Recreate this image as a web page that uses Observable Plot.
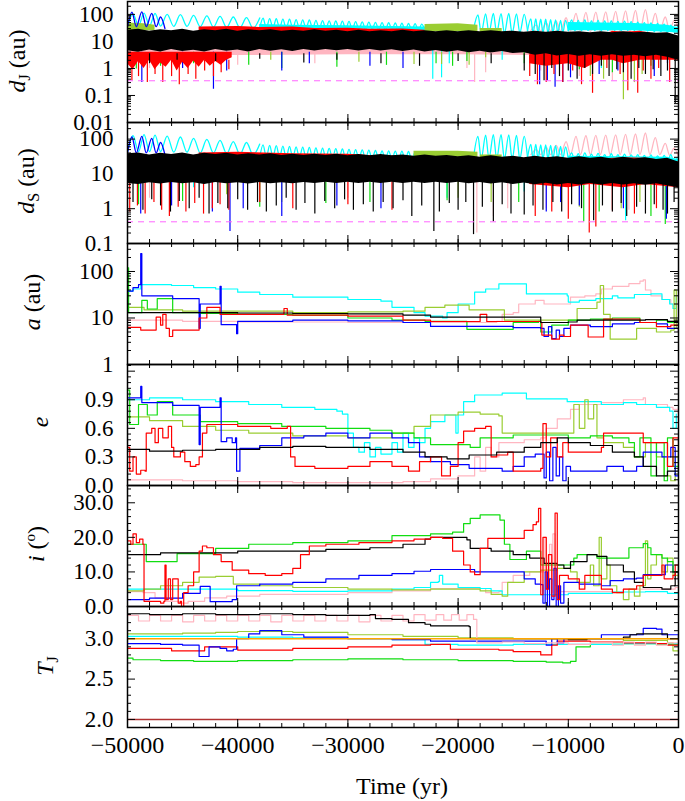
<!DOCTYPE html>
<html><head><meta charset="utf-8">
<script src="https://cdn.jsdelivr.net/npm/d3@7"></script>
<script src="https://cdn.jsdelivr.net/npm/@observablehq/plot@0.6"></script>
<style>
body{margin:0;background:#fff;}
#wrap{position:relative;width:685px;height:801px;overflow:hidden;background:#fff;font-family:"Liberation Serif","Times New Roman",serif;color:#000;}
.ylab{position:absolute;transform:translate(-50%,-50%) rotate(-90deg);white-space:nowrap;font-size:24px;line-height:1;}
.ylab sub{font-size:16px;vertical-align:-5px;line-height:0;}
.ylab sup{font-size:15px;vertical-align:9px;line-height:0;}
#xlab{position:absolute;left:402px;top:786px;transform:translate(-50%,-50%);font-size:24px;white-space:nowrap;}
svg{overflow:visible;}
</style></head><body><div id="wrap">
<div class="ylab" style="left:17px;top:61px"><i>d</i><sub>J</sub> (au)</div>
<div class="ylab" style="left:26px;top:181px"><i>d</i><sub>S</sub> (au)</div>
<div class="ylab" style="left:32px;top:302px"><i>a</i> (au)</div>
<div class="ylab" style="left:40px;top:422px"><i>e</i></div>
<div class="ylab" style="left:36px;top:544px"><i>i</i> (<sup>o</sup>)</div>
<div class="ylab" style="left:45px;top:666px"><i>T</i><sub>J</sub></div>
<div id="xlab">Time (yr)</div>
</div>
<script>
// ---------- colours ----------
const C = {black:"#000000", red:"#ff0000", blue:"#0000ff", green:"#11dd11", yg:"#9acd32", cyan:"#00ffff", pink:"#ffb6c1", dash:"#ff66ff", orange:"#ffa500", dred:"#b03030"};

// ---------- axis ticks / labels ----------
const xMajor = [-50000,-40000,-30000,-20000,-10000,0];
const xLabels = ["\u221250000","\u221240000","\u221230000","\u221220000","\u221210000","0"];
const dJTicks = [0.01,0.1,1,10,100];      const dJLabels = ["0.01","0.1","1","10","100"];
const dSTicks = [0.1,1,10,100];           const dSLabels = ["0.1","1","10","100"];
const aTicks = [1,10,100];                const aLabels = ["1","10","100"];
const eTicks = [0,0.3,0.6,0.9,1.2];       const eLabels = ["0.0","0.3","0.6","0.9",""];
const iTicks = [0,10,20,30];              const iLabels = ["0.0","10.0","20.0","30.0"];
const tjTicks = [2.0,2.5,3.0];            const tjLabels = ["2.0","2.5","3.0"];

// ---------- d_J panel (time in kyr; [t, lo, hi] bands, [t, value] lines, [t, min] spikes) ----------
const blackBandJ = [[-50,4.5,26],[-49,4,28],[-48,4.8,24],[-47,4.1,27],[-46,5,25],[-45,4.2,28],[-44,4.7,24],[-43,4.1,27],[-42,5,25],[-41,4.3,28],[-40,4.8,24],[-39,4.1,27],[-38,5,25],[-37,4.3,27],[-36,4.9,24],[-35,4.2,26],[-34,5,24],[-33,4.4,27],[-32,5,24],[-31,4.5,26],[-30,5,23],[-29,4.4,26],[-28,5,23],[-27,4.4,25],[-26,4.9,23],[-25,4.2,26],[-24,4.8,23],[-23,4.1,25],[-22,4.6,23],[-21,4,25],[-20,4.5,23],[-19,3.8,25],[-18,4.3,23],[-17,3.7,25],[-16,4.2,23],[-15,3.6,24],[-14,3.8,22],[-13,3.1,24],[-12,3.5,22],[-11,2.9,24],[-10,3.3,22],[-9,2.8,23],[-8,3.2,21],[-7,2.8,23],[-6,3.2,21],[-5,2.8,23],[-4,3.1,21],[-3,2.7,22],[-2,3.1,20],[-1,2.6,21],[0,2,16]];
const redBandJ1 = [[-50,1.5,4],[-49.5,0.9,4],[-49,1.8,4],[-48.5,1,4],[-48,2,4],[-47.5,0.9,4],[-47,1.6,4],[-46.5,1.1,4],[-46,2,4],[-45.5,0.8,4],[-45,1.7,4],[-44.5,1,4],[-44,1.9,4],[-43.5,1.1,4],[-43,2,4],[-42.5,1.2,4],[-42,1.8,4],[-41.5,1.3,4],[-41,2,4],[-40.5,2.5,4]];
const redBandJ2 = [[-43.5,15,34],[-40,15,36],[-38,15,33],[-35,15,34],[-33,15,30],[-30,15,31],[-28,15,28],[-25,15,29],[-23,15,26]];
const redBandJ3 = [[-13.5,1.5,10],[-12,1.2,9],[-10,1.5,10],[-8.5,1,8],[-7,2,12],[-6,2,24],[-5,1.5,22],[-3.5,2,24],[-2,2,18],[0,2,15]];
const pinkBandJ = [[-50,3,12],[-40,3,12],[-30,3.2,12],[-20,3.2,12],[-13.5,3,12]];
const cyanBandJ1 = [[-38,30,42],[-35,30,40],[-30,28,38],[-26,28,36],[-23,25,34],[-18.6,22,34]];
const cyanBandJ2 = [[-10,25,50],[-7,25,48],[-4,25,46],[-1,22,40],[0,20,32]];
const ygBandJ0 = [[-50,25,48],[-48.5,25,45],[-47.5,25,40]];
const ygBandJ1 = [[-23,23,42],[-20,23,45],[-18.2,23,40]];
const ygBandJ2 = [[-18,20,30],[-16,20,30]];
const cyanArchJ1 = [[-50,38],[-49.5,105],[-49,38],[-48.5,112],[-48,38],[-47.5,108],[-47,37],[-46.4,100],[-45.8,36],[-45.2,98],[-44.6,36],[-44,92],[-43.4,35],[-42.8,88],[-42.2,34],[-41.6,84],[-41,33],[-40.4,80],[-39.8,32],[-39.2,76],[-38.6,31],[-38,74]];
const cyanArchJ1b = [[-38,31],[-37.7,72],[-37.4,31],[-37.1,70],[-36.8,31],[-36.5,69],[-36.2,31],[-35.9,67],[-35.6,30],[-35.3,66],[-35,30],[-34.7,64],[-34.4,30],[-34.1,63],[-33.8,30],[-33.5,62],[-33.2,30],[-32.9,60],[-32.6,29],[-32.3,59],[-32,29],[-31.7,58],[-31.4,29],[-31.1,57],[-30.8,29],[-30.5,56],[-30.2,28],[-29.9,55],[-29.6,28],[-29.3,54],[-29,28],[-28.7,53],[-28.4,28],[-28.1,52],[-27.8,28],[-27.5,51],[-27.2,27],[-26.9,50],[-26.6,27],[-26.3,49],[-26,27],[-25.7,48],[-25.4,26],[-25.1,47],[-24.8,26],[-24.5,46],[-24.2,26],[-23.9,45],[-23.6,25],[-23.3,44],[-23,25]];
const blueArchJ = [[-50,35],[-49.6,120],[-49.2,35],[-48.7,125],[-48.3,35],[-47.8,110],[-47.4,35],[-47,80],[-46.6,30]];
const cyanArchJ2 = [[-18.6,28],[-18.2,95],[-17.9,21],[-17.5,105],[-17.2,21],[-16.8,108],[-16.5,21],[-16.1,107],[-15.8,20],[-15.4,108],[-15.1,20],[-14.7,105],[-14.4,21],[-14.0,100],[-13.7,25]];
const cyanArchJ3 = [[-13.7,25],[-13.4,68],[-13.2,21],[-12.95,68],[-12.75,21],[-12.5,66],[-12.3,21],[-12.05,66],[-11.85,21],[-11.6,64],[-11.4,21],[-11.15,62],[-10.95,21],[-10.7,60],[-10.5,21],[-10.25,60],[-10,25]];
const cyanArchJ4 = [[-10,25],[-9.7,62],[-9.4,25],[-9.1,60],[-8.8,25],[-8.5,62],[-8.2,25],[-7.9,58],[-7.6,25],[-7.3,60],[-7,25],[-6.7,57],[-6.4,25],[-6.1,58],[-5.8,25],[-5.5,55],[-5.2,25],[-4.9,56],[-4.6,25],[-4.3,54],[-4,25],[-3.7,52],[-3.4,24],[-3.1,50],[-2.8,24],[-2.5,48],[-2.2,23],[-1.9,46],[-1.6,23],[-1.3,44],[-1,22],[-0.7,40],[-0.4,22],[-0.1,35]];
const pinkArchJ = [[-13.4,25],[-12.9,40],[-12.5,24],[-12,48],[-11.6,24],[-11.1,55],[-10.7,24],[-10.2,75],[-9.8,24],[-9.3,110],[-8.9,23],[-8.4,118],[-8,23],[-7.5,122],[-7.1,23],[-6.6,125],[-6.2,23],[-5.7,130],[-5.3,23],[-4.8,135],[-4.4,23],[-3.9,140],[-3.5,23],[-3.0,150],[-2.6,25],[-2.1,110],[-1.7,25],[-1.2,80],[-0.8,25],[-0.4,60],[0,30]];
const blackSpikesJ = [[-48,1.5],[-45.5,2],[-42,1.8],[-38,2.2],[-34,1.6],[-31,2],[-27,1.5],[-23.5,1.2],[-20,1.8],[-17,1.5],[-14,0.8],[-13,0.6],[-12.2,0.35],[-11.5,1],[-10.8,0.5],[-10,0.8],[-9.2,0.4],[-8.5,1],[-7.8,0.6],[-7,1.2],[-6.3,0.5],[-5.6,0.9],[-5,0.7],[-4.3,0.4],[-3.6,1],[-3,0.6],[-2.3,0.9],[-1.6,0.5],[-1,0.8],[-0.3,0.05]];
const redSpikesJ1 = [[-49.6,0.35],[-49,0.5],[-48.2,0.3],[-47.5,0.6],[-46.8,0.3],[-46,0.5],[-45.3,0.25],[-44.5,0.6],[-43.8,0.4],[-43,0.8],[-42.2,0.5],[-41.5,0.7],[-40.8,0.9]];
const redSpikesJ2 = [[-13.5,0.5],[-12.8,0.25],[-12,0.3],[-11.3,0.6],[-10.5,0.3],[-9.6,0.8],[-8.8,0.25],[-7.8,0.12],[-6.5,1],[-5.3,0.6],[-4.6,0.15],[-3.7,0.12],[-3.2,0.8],[-2.5,0.4],[-1.8,1],[-0.8,0.3]];
const blueSpikesJ = [[-48.7,0.3],[-45,1],[-42.2,0.17],[-41,0.8],[-36,0.8],[-33.5,1.5],[-28,1.2],[-25,1],[-12.6,0.25],[-11.9,0.35],[-11.2,0.2],[-10.5,0.3],[-9.8,0.45],[-7.2,0.6],[-5.5,0.8],[-2.2,0.5],[-1,1.5]];
const greenSpikesJ = [[-49.2,0.95],[-47,1.2],[-44,1.5],[-39,1.3],[-36,1],[-31,1.1],[-26.5,1.3],[-22,1.5],[-20.5,1.2],[-19.2,1.8],[-14,1.5],[-9,0.9],[-6,0.7],[-2.5,1.2]];
const ygSpikesJ = [[-47.5,1.5],[-37,2],[-29,1.7],[-24,1.4],[-21.5,1.4],[-19,1.3],[-17.5,2.5],[-8,0.5],[-6.8,0.4],[-5,0.07],[-4,0.3],[-3.3,0.6]];
const cyanSpikesJ = [[-22.3,0.4],[-21.5,0.45],[-20.8,1.5],[-16,2],[-7,1]];
const pinkSpikesJ = [[-48,1],[-40,1.3],[-33,1.5],[-19.2,1],[-18.5,0.3],[-17.5,0.7],[-12.5,0.8],[-9,0.5],[-6,0.35],[-4,0.6]];
const hillJ = [0.35];

// ---------- d_S panel ----------
const blackBandS = [[-50,5.3,38],[-49,5,40],[-48,5.6,35],[-47,5.1,39],[-46,5.7,36],[-45,5.2,40],[-44,5.6,35],[-43,5,39],[-42,5.7,36],[-41,5.2,39],[-40,5.6,35],[-39,5.1,38],[-38,5.7,35],[-37,5.2,38],[-36,5.6,34],[-35,5.2,37],[-34,5.7,34],[-33,5.3,37],[-32,5.8,34],[-31,5.3,37],[-30,5.8,33],[-29,5.3,36],[-28,5.8,33],[-27,5.3,36],[-26,5.8,33],[-25,5.3,35],[-24,5.8,32],[-23,5.3,35],[-22,5.8,32],[-21,5.3,34],[-20,5.8,31],[-19,5.2,33],[-18,5.7,30],[-17,5.1,33],[-16,5.6,30],[-15,5,32],[-14,5.5,29],[-13,4.9,32],[-12,5.4,29],[-11,4.8,31],[-10,5.3,28],[-9,4.8,31],[-8,5.3,28],[-7,4.8,30],[-6,5.3,27],[-5,4.8,30],[-4,5.2,27],[-3,4.7,29],[-2,5.2,26],[-1,4.6,28],[0,4,22]];
const redBandS2 = [[-43.5,20,40],[-40,20,42],[-35,20,38],[-30,18,37],[-28,18,34],[-23,18,31]];
const redBandS3 = [[-13.5,5,20],[-10,4,24],[-8,5,26],[-5,4,29],[-3,5,28],[0,4,22]];
const pinkBandS = [[-50,8,22],[-30,8,22],[-13.5,8,22]];
const cyanBandS1 = [[-38,23,35],[-35,23,34],[-30,22,32],[-26,22,31],[-23,20,30],[-18.6,20,32]];
const cyanBandS2 = [[-10,18,32],[-5,18,31],[-1,18,30],[0,16,26]];
const ygBandS1 = [[-24,25,45],[-20,25,45],[-18.2,25,42]];
const ygBandS2 = [[-18,20,35],[-16,20,35]];
const cyanArchS1 = [[-50,44],[-49.5,125],[-49,44],[-48.5,135],[-48,44],[-47.5,130],[-47,44],[-46.4,122],[-45.8,42],[-45.2,115],[-44.6,42],[-44,105],[-43.4,40],[-42.8,98],[-42.2,40],[-41.6,92],[-41,38],[-40.4,85],[-39.8,36],[-39.2,80],[-38.6,35],[-38,72]];
const cyanArchS1b = [[-38,30],[-37.7,68],[-37.4,30],[-37.1,66],[-36.8,30],[-36.5,65],[-36.2,30],[-35.9,63],[-35.6,29],[-35.3,62],[-35,29],[-34.7,60],[-34.4,29],[-34.1,59],[-33.8,29],[-33.5,58],[-33.2,29],[-32.9,56],[-32.6,28],[-32.3,55],[-32,28],[-31.7,54],[-31.4,28],[-31.1,53],[-30.8,28],[-30.5,52],[-30.2,27],[-29.9,51],[-29.6,27],[-29.3,50],[-29,27],[-28.7,49],[-28.4,27],[-28.1,48],[-27.8,27],[-27.5,47],[-27.2,26],[-26.9,46],[-26.6,26],[-26.3,46],[-26,26],[-25.7,45],[-25.4,25],[-25.1,45],[-24.8,25],[-24.5,44],[-24.2,25],[-23.9,43],[-23.6,24],[-23.3,42],[-23,24]];
const blueArchS = [[-50,40],[-49.6,115],[-49.2,40],[-48.7,120],[-48.3,40],[-47.8,105],[-47.4,40],[-47,80],[-46.6,35]];
const cyanArchS2 = [[-18.6,30],[-18.2,120],[-17.9,27],[-17.5,130],[-17.2,27],[-16.8,135],[-16.5,27],[-16.1,135],[-15.8,27],[-15.4,133],[-15.1,27],[-14.7,128],[-14.4,27],[-14.0,120],[-13.7,30]];
const cyanArchS3 = [[-13.7,30],[-13.4,70],[-13.2,27],[-12.95,70],[-12.75,27],[-12.5,68],[-12.3,27],[-12.05,68],[-11.85,27],[-11.6,66],[-11.4,27],[-11.15,65],[-10.95,27],[-10.7,62],[-10.5,27],[-10.25,60],[-10,27]];
const cyanArchS4 = [[-10,24],[-9.7,40],[-9.4,24],[-9.1,38],[-8.8,24],[-8.5,40],[-8.2,24],[-7.9,37],[-7.6,24],[-7.3,39],[-7,24],[-6.7,36],[-6.4,24],[-6.1,38],[-5.8,24],[-5.5,36],[-5.2,24],[-4.9,37],[-4.6,24],[-4.3,35],[-4,24],[-3.7,36],[-3.4,23],[-3.1,34],[-2.8,23],[-2.5,35],[-2.2,22],[-1.9,33],[-1.6,22],[-1.3,34],[-1,21],[-0.7,36],[-0.4,21],[-0.1,30]];
const pinkArchS = [[-13.4,36],[-12.9,50],[-12.5,36],[-12,58],[-11.6,36],[-11.1,66],[-10.7,36],[-10.2,85],[-9.8,36],[-9.3,120],[-8.9,36],[-8.4,125],[-8,36],[-7.5,128],[-7.1,36],[-6.6,130],[-6.2,36],[-5.7,133],[-5.3,36],[-4.8,136],[-4.4,36],[-3.9,140],[-3.5,36],[-3.0,150],[-2.6,36],[-2.1,110],[-1.7,36],[-1.2,75],[-0.8,34],[-0.4,55],[0,30]];
const blackSpikesS = [[-49.5,1.5],[-48.6,0.9],[-47.8,1.8],[-47,1.2],[-46.1,0.8],[-45.3,1.6],[-44.4,1],[-43.5,2],[-42.6,0.7],[-41.8,1.4],[-40.9,1],[-40,1.8],[-39.1,0.9],[-38.2,1.5],[-37.4,0.8],[-36.5,1.2],[-35.6,2],[-34.7,0.9],[-33.9,1.4],[-33,0.7],[-32.1,1.6],[-31.2,1],[-30.3,1.8],[-29.5,0.9],[-28.6,1.3],[-27.7,0.8],[-26.8,1.5],[-25.9,1],[-25,1.7],[-24.2,0.6],[-23.3,1.2],[-22.2,0.22],[-21.7,0.8],[-20.8,1.4],[-20,0.9],[-19.3,1.5],[-18.6,0.18],[-17.8,1.1],[-16.8,0.42],[-16,1.3],[-15.2,0.7],[-14,0.66],[-13.2,1.2],[-12.3,0.9],[-11.4,1.5],[-10.6,0.8],[-9.7,1.3],[-8.8,1],[-7.7,0.45],[-6.9,1.2],[-6,0.8],[-5.2,1.4],[-4.7,0.6],[-3.8,1.1],[-3,0.7],[-2.2,1.3],[-1.4,0.9],[-1,0.7],[-0.4,1.5]];
const redSpikesS = [[-49.8,0.8],[-49.1,1.2],[-48.4,0.7],[-47.6,1.5],[-46.9,0.9],[-46.2,0.6],[-45.4,1.1],[-44.7,0.8],[-43.9,1.4],[-43.1,0.7],[-42.3,1],[-41.6,1.3],[-40.8,0.9],[-38,1.5],[-35,1],[-30,1.3],[-26,0.9],[-13,0.6],[-11.5,0.8],[-10,0.5],[-8.1,0.2],[-7.5,0.3],[-6,0.9],[-4,0.7],[-2,1]];
const blueSpikesS = [[-48.8,0.7],[-46,1.2],[-42.3,0.8],[-40.7,0.22],[-39.5,1],[-36,0.6],[-31,1.2],[-27,1],[-12,0.8],[-10.7,1.5],[-9,1.2],[-5,1],[-1.1,0.5]];
const greenSpikesS = [[-49,1.3],[-45,1.6],[-38,1.1],[-32,1.4],[-28,1.5],[-21,1.7],[-14.5,1.5],[-8.6,0.42],[-7.2,0.8],[-2.5,0.6],[-1.2,0.35]];
const ygSpikesS = [[-47,2],[-41,2.5],[-36,1.5],[-20,2],[-17,1.5],[-9,1.1],[-5.2,1],[-3.5,1.5]];
const cyanSpikesS = [[-49,3],[-44,4],[-21,2],[-14,3],[-4.8,0.45]];
const pinkSpikesS = [[-48,2],[-38,1.5],[-30,2],[-18.3,0.2],[-16.8,0.6],[-15.5,1],[-12,1],[-6,0.8],[-4.5,0.9]];
const hillS = [0.42];

// ---------- a panel ----------
const black_a = [[-50,13],[-45,13],[-40,12.8],[-35,12.5],[-30,12.3],[-25,11.5],[-22.5,10.4],[-12.5,8],[-10,8.2],[-9.2,9],[-3,9.2],[-1,8.5],[0,7]];
const red_a = [[-50,6.3],[-48.8,5.5],[-47.4,10.4],[-47,7],[-46.8,12],[-46.5,6],[-46.2,4],[-45.9,5.5],[-43.5,10],[-42.8,17],[-41.6,12],[-36,12],[-35.8,16],[-35.5,11.5],[-30,11],[-25,9],[-22.5,8.4],[-18,12],[-17.4,8.4],[-12.5,8],[-12.4,4.3],[-11.5,3.5],[-10.8,4.3],[-10.4,4],[-9.8,7],[-8.3,7],[-8.2,3.9],[-7.1,3.9],[-6.8,9.5],[-4.1,9.5],[-3.5,8],[-2,6.5],[-0.7,7],[0,5]];
const blue_a = [[-50,38],[-49.5,45],[-49,52],[-48.8,244],[-48.7,30],[-45.9,26],[-43.5,6],[-43.4,20],[-41.6,48],[-41.5,7.2],[-40.1,4.6],[-40,8.5],[-35,9],[-30,8.7],[-25,8],[-22.5,6.6],[-15,6.2],[-12.5,6],[-12.2,4],[-11.8,6.5],[-11.5,3.6],[-11.1,5.5],[-10.8,4],[-10.4,6],[-9.8,7],[-8,6.5],[-6,7.5],[-4,8],[-2,7.5],[-1,6],[0,5]];
const cyan_a = [[-50,38],[-49.5,42],[-48.8,52],[-46,50],[-44,45],[-42,42],[-40,36],[-38,32],[-35,28],[-30,25],[-27,23],[-26,17],[-24,13],[-23,11],[-21.4,10],[-21,13],[-20,20],[-18.5,36],[-17.5,42],[-16.3,54],[-13.8,33],[-10.1,30],[-10,22],[-9,24],[-7.5,26],[-6,30],[-5.5,27],[-4,32],[-2.5,33],[-1.5,25],[-0.8,20],[-0.5,16],[-0.2,28]];
const green_a = [[-50,120],[-49.9,13],[-48.7,24],[-48.2,15.6],[-47.3,26],[-45.9,13],[-43.5,12.5],[-40,12],[-35,11.5],[-30,10],[-26,9],[-23,8.5],[-19.2,5.7],[-15,8],[-12.7,8.5],[-12.5,5],[-11.5,7],[-10,9],[-8,9.5],[-6,10],[-4.5,10],[-3.5,8],[-2,9],[-1,8],[0,6]];
const yg_a = [[-50,17],[-48.5,15],[-45,14],[-40,14],[-35,13],[-30,13.5],[-25,14],[-23,17],[-21.2,19],[-19,15],[-16,15],[-15.8,9],[-9.2,16],[-7.4,22],[-7.1,50],[-6.8,12],[-6.2,3.5],[-3.8,6],[-2,5],[-0.7,5.5],[-0.4,40],[-0.2,6]];
const pink_a = [[-50,9],[-45,8.5],[-40,8.2],[-30,8],[-22.5,8],[-16.5,8.5],[-16,12],[-15,13],[-14.5,20],[-13.5,20],[-13,24],[-12.2,20],[-9.8,28],[-8.5,30],[-7.5,33],[-7,42],[-6,48],[-4.5,55],[-3.5,62],[-3.2,66],[-3.0,40],[-2.5,30],[-1.5,25],[-0.7,20],[0,15]];

// ---------- e panel ----------
const blue_e = [[-50,0.92],[-48.8,1.04],[-48.7,0.87],[-45.9,0.84],[-43.5,0.43],[-43.4,0.82],[-41.6,0.92],[-41.5,0.46],[-41,0.5],[-40.5,0.45],[-40.2,0.5],[-40.1,0.15],[-39.8,0.39],[-38,0.42],[-36,0.5],[-34,0.52],[-32,0.55],[-30,0.5],[-28,0.55],[-26,0.5],[-24.5,0.45],[-23.5,0.3],[-22.5,0.25],[-20.7,0.22],[-19,0.18],[-16,0.15],[-15,0.2],[-14,0.3],[-13,0.33],[-12.2,0.08],[-12,0.35],[-11.7,0.05],[-11.4,0.4],[-11.1,0.1],[-10.8,0.3],[-10.5,0.05],[-10.2,0.2],[-9.8,0.15],[-8,0.15],[-6.5,0.2],[-5,0.15],[-3.8,0.2],[-3.2,0.35],[-1.5,0.3],[-0.7,0.4],[-0.3,0.1],[0,0.2]];
const cyan_e = [[-50,0.9],[-48,0.92],[-45,0.9],[-42,0.88],[-39,0.85],[-36,0.82],[-33,0.8],[-31,0.78],[-30.5,0.75],[-30,0.55],[-29.5,0.4],[-29,0.35],[-28.5,0.45],[-28,0.3],[-27.5,0.4],[-27,0.33],[-26,0.45],[-25.5,0.35],[-25,0.55],[-24.5,0.4],[-24,0.5],[-23.5,0.45],[-23,0.6],[-22.5,0.67],[-21.2,0.74],[-20.2,0.55],[-20,0.74],[-19.5,0.88],[-18.5,0.95],[-16,0.97],[-13.8,0.91],[-10.1,0.88],[-7,0.85],[-5,0.87],[-3.8,0.85],[-2,0.82],[-0.8,0.78],[-0.5,0.6],[-0.2,0.75]];
const green_e = [[-50,1.0],[-49.8,0.64],[-49,0.85],[-48.2,0.74],[-47.3,0.88],[-45.9,0.74],[-43.4,0.67],[-40,0.65],[-36,0.62],[-32,0.6],[-28,0.58],[-26,0.55],[-24,0.5],[-22.5,0.43],[-18.9,0.4],[-18,0.5],[-15,0.53],[-10,0.5],[-8,0.52],[-6,0.5],[-4.5,0.45],[-4,0.3],[-3.5,0.5],[-2.5,0.1],[-2,0.45],[-1.3,0.05],[-1,0.5],[-0.5,0.2],[0,0.4]];
const yg_e = [[-50,0.72],[-48,0.68],[-45,0.62],[-42,0.58],[-39,0.55],[-35,0.52],[-30,0.5],[-26,0.55],[-24,0.62],[-22.5,0.74],[-20,0.77],[-18,0.75],[-16.3,0.73],[-16,0.55],[-9.8,0.55],[-9.5,0.85],[-9,0.6],[-8.5,0.9],[-8.2,0.7],[-7.7,0.85],[-7.4,0.5],[-6.8,0.45],[-5,0.4],[-4,0.3],[-3,0.45],[-2,0.3],[-1.3,0.1],[-0.7,0.05],[-0.3,0.3],[0,0.05]];
const red_e = [[-50,0.4],[-49.8,0.15],[-49.5,0.3],[-49.2,0.12],[-48.8,0.16],[-48.4,0.15],[-48.3,0.55],[-47.8,0.6],[-47.5,0.45],[-47.2,0.6],[-46.8,0.5],[-46.3,0.62],[-46,0.4],[-45.8,0.3],[-45.2,0.35],[-44.8,0.25],[-44.3,0.2],[-43.8,0.22],[-43.5,0.3],[-43.2,0.55],[-42.8,0.64],[-40,0.62],[-37,0.6],[-35.5,0.62],[-35.2,0.3],[-34.8,0.2],[-33,0.18],[-30,0.2],[-28,0.25],[-26,0.2],[-24.5,0.15],[-23.5,0.25],[-22.5,0.3],[-21.5,0.1],[-20.7,0.2],[-20,0.45],[-19.5,0.57],[-18.5,0.6],[-17.5,0.62],[-17,0.3],[-16.5,0.32],[-15.5,0.35],[-15,0.15],[-12.5,0.18],[-12.3,0.65],[-12,0.3],[-11.6,0.5],[-11,0.3],[-10.5,0.45],[-10,0.35],[-8.5,0.35],[-7,0.4],[-6.8,0.55],[-4,0.55],[-3.2,0.45],[-1.5,0.45],[-1,0.2],[-0.5,0.5],[0,0.3]];
const black_e = [[-50,0.38],[-48,0.36],[-45,0.37],[-42,0.38],[-38,0.4],[-35,0.41],[-32,0.4],[-28,0.38],[-25,0.35],[-23,0.3],[-21,0.28],[-19,0.32],[-16.5,0.35],[-14,0.4],[-12.5,0.45],[-11,0.5],[-10,0.45],[-8,0.42],[-6,0.35],[-4,0.3],[-3.2,0.2],[-2,0.1],[-1,0.15],[0,0.3]];
const pink_e = [[-50,0.06],[-45,0.05],[-40,0.04],[-35,0.03],[-30,0.03],[-25,0.04],[-22.5,0.07],[-20,0.1],[-18.5,0.3],[-18,0.15],[-17.5,0.4],[-17,0.3],[-16.3,0.45],[-14,0.48],[-12.5,0.5],[-12,0.6],[-11,0.7],[-9.8,0.8],[-9,0.85],[-7,0.87],[-5,0.9],[-3.2,0.92],[-3,0.85],[-1,0.82],[-0.5,0.8],[0,0.8]];

// ---------- i panel ----------
const red_i = [[-50,19],[-49.7,18],[-49.5,21],[-49.2,18.5],[-48.9,19.5],[-48.6,18],[-48.5,1.5],[-47,1],[-46.7,1.5],[-46.6,12],[-46.5,2],[-46.3,8],[-46.1,2],[-45.9,8],[-45.4,1],[-45.2,1.5],[-45.1,0],[-44.9,4],[-44.5,6],[-44,10],[-43.5,16],[-43.2,17.5],[-42.8,17],[-42.2,15],[-41.5,13],[-40.5,10.5],[-39,9.5],[-37.5,9],[-36,9.5],[-35,11],[-34.3,15],[-33.5,17.5],[-32,18],[-29,18.5],[-26,19],[-24,19.5],[-22.5,20],[-21.4,19.7],[-20.5,16],[-19.5,12],[-18.9,10],[-18.5,9.2],[-18,16.8],[-17.3,19.7],[-15.3,19.7],[-14,22],[-13.2,23.7],[-12.9,24.5],[-12.7,28.4],[-12.5,3.4],[-12.3,20],[-12,5],[-11.8,15],[-11.5,3],[-11.2,27],[-11,2],[-10.8,9],[-10,8],[-9,5],[-8.5,9],[-7.5,9],[-7,5],[-6,4],[-5,5],[-3.8,6],[-3.2,9],[-2,9],[-1.5,12],[-1.3,8],[-0.5,9],[-0.3,12],[0,8]];
const black_i = [[-50,15],[-47,15.5],[-44,15.5],[-40,16],[-36,16],[-32,16.5],[-28,17],[-25,18],[-23,19.5],[-22.5,20],[-19.2,19.3],[-18.9,16.8],[-17,16],[-15,15],[-13.5,14],[-12.2,12.5],[-11,12],[-10.4,11],[-9.8,13],[-8.3,15],[-7.4,14.5],[-6.5,12],[-5,10],[-4,7],[-3.2,5.5],[-1.5,5],[-0.7,6],[-0.3,10],[0,8]];
const green_i = [[-50,18],[-48.3,13],[-45.5,15.3],[-42,16.8],[-39,18],[-35,18.5],[-30,19],[-26,20.5],[-22.5,21],[-20.5,21.5],[-19.5,24],[-18.9,25.5],[-18,26.5],[-16.5,26.5],[-16.2,25],[-15.8,18],[-15.3,13.6],[-13.8,16],[-12.5,12],[-9.5,14],[-9.2,15],[-7.4,14],[-5,14],[-4.5,17],[-3.2,18.2],[-2.8,17],[-2.5,15],[-1.5,14],[-1,13],[-0.5,10],[0,12]];
const yg_i = [[-50,4.5],[-48.5,5],[-47,6],[-45,7],[-43.5,8.5],[-42,8.7],[-40.4,6.5],[-38,6],[-35,5.5],[-30,5],[-26,4.8],[-22.5,5],[-18,4.5],[-17,3.5],[-16,3],[-15.5,7],[-14,10],[-12.5,10.5],[-11,11],[-9.8,10],[-9.2,7],[-8.3,7],[-8,12],[-7.7,6],[-7.2,20],[-7,8],[-6.5,12],[-6.2,6],[-5.6,4],[-5,2],[-4.5,5],[-4,3],[-3.5,6],[-3,19],[-2.8,8],[-2.5,12],[-2,15],[-1.5,10],[-1,14],[-0.5,9],[0,6]];
const blue_i = [[-50,2],[-48,2.4],[-45,3.8],[-43.4,5.8],[-42.5,1.4],[-40.5,2],[-40.1,6],[-38,6.5],[-35,7],[-32,8],[-29,9],[-26,9.5],[-24,10.2],[-22.5,10.7],[-18.5,10],[-15.3,10],[-14,8],[-13,6.5],[-12.5,6.3],[-12.3,1],[-12.1,10],[-11.9,0],[-11.7,8],[-11.5,2],[-11.3,11],[-11.1,0],[-10.9,6],[-10.7,1],[-10.4,7],[-9,6.5],[-7,6],[-6.2,7.5],[-5,8],[-3.8,8.2],[-3.2,9.2],[-1.5,9.2],[-1.2,12],[-0.5,10],[0,7]];
const cyan_i = [[-50,5],[-45,5],[-40,4.6],[-35,4.4],[-30,4.5],[-26,5],[-24,5.5],[-22.5,7],[-21.8,7.2],[-21.7,9],[-21.4,6.5],[-20,5.5],[-18,5.2],[-17,4.5],[-16,3.4],[-12,3.4],[-10,3.8],[-6,4.2],[-3,4.3],[-1,3.8],[0,3.5]];
const pink_i = [[-50,4.3],[-48.6,4],[-47.5,2.5],[-46.5,1.5],[-45.3,1],[-44.5,1.5],[-43,2.5],[-41,3],[-38,3.5],[-35,3.5],[-30,4],[-26,4.5],[-22.5,5.2],[-18,5.2],[-17.5,4],[-16.3,4.3],[-16,7],[-15,9],[-13.5,10],[-12.2,20],[-12,5],[-11.7,18],[-11.5,4],[-11.4,21],[-11.2,6],[-11,4.3],[-7,4.3],[-5,5],[-2,5],[-0.3,5.5],[0,5]];

// ---------- T_J panel ----------
const black_T = [[-50,3.31],[-48,3.3],[-45,3.31],[-42,3.3],[-38,3.31],[-35,3.3],[-32,3.29],[-28,3.3],[-27.5,3.25],[-26,3.24],[-24.5,3.2],[-23,3.18],[-22.5,3.16],[-19,3.15],[-18.9,3.0],[-15,3.0],[-10,2.99],[-8.3,3.0],[-5,3.02],[-4.4,3.05],[-3.8,3.06],[-1,3.0],[0,3.0]];
const pink_T = [[-50,3.29],[-49,3.22],[-48,3.29],[-47,3.22],[-46,3.29],[-45,3.21],[-44,3.29],[-43,3.22],[-42,3.29],[-41,3.22],[-40,3.29],[-39,3.22],[-38,3.29],[-37,3.21],[-36,3.29],[-35,3.22],[-34,3.29],[-33,3.22],[-32,3.29],[-31,3.22],[-30,3.29],[-29,3.21],[-28,3.29],[-27,3.22],[-26,3.29],[-25,3.22],[-24,3.3],[-23,3.23],[-22,3.3],[-21.3,3.23],[-20.6,3.3],[-19.9,3.23],[-19.2,3.3],[-18.6,3.24],[-18.3,2.95],[-16,2.96],[-14,2.94],[-12,2.95],[-10,2.93],[-8,2.95],[-6,2.92],[-5,2.96],[-4,2.92],[-3,2.96],[-2,2.92],[-1,2.95],[0,2.94]];
const yg_T = [[-50,3.06],[-45,3.07],[-42,3.08],[-40,3.09],[-35,3.08],[-30,3.05],[-25,3.03],[-20,3.01],[-15,3.0],[-10,3.0],[-5,2.98],[-1,2.95],[-0.5,2.85],[0,2.95]];
const cyan_T = [[-50,3.03],[-45,3.03],[-40,3.02],[-35,3.01],[-30,3.0],[-26,2.99],[-23,2.93],[-20,2.92],[-15,2.93],[-10,2.93],[-5,2.94],[0,2.95]];
const blue_T = [[-50,2.94],[-47,2.93],[-45,2.92],[-43.5,2.78],[-42.6,2.9],[-41.6,2.88],[-41,2.85],[-40.4,2.87],[-40.1,3.0],[-39,3.06],[-38,3.1],[-36,3.05],[-34,3.02],[-30,3.0],[-26,2.99],[-22.5,2.97],[-12.5,2.97],[-12,2.92],[-11.5,3.0],[-11,2.95],[-10.4,3.0],[-7,3.05],[-3.2,3.13],[-2,3.12],[-1.5,3.05],[0,2.98]];
const red_T = [[-50,2.88],[-47,2.88],[-46,2.85],[-43,2.9],[-40,2.86],[-35,2.88],[-30,2.9],[-26,2.92],[-22.5,2.93],[-20.7,2.87],[-16.3,2.86],[-15,2.84],[-12.5,2.8],[-11.5,2.92],[-11,2.97],[-8,2.96],[-5,2.95],[-2,2.94],[-1,2.92],[0,2.93]];
const green_T = [[-50,2.76],[-49.5,2.74],[-47,2.73],[-44,2.72],[-40,2.73],[-35,2.74],[-30,2.75],[-25,2.74],[-20,2.73],[-15,2.72],[-12,2.71],[-10.5,2.7],[-9.8,2.72],[-9.3,2.9],[-8,2.93],[-5,2.94],[-2,2.93],[0,2.92]];
const refTJ = [3.0];
const refTJlow = [2.0];

// ---------- drawing ----------
const W = 685, ML = 127, MR = 7, PH = 121, FW = W - ML - MR;
const FONT = "Liberation Serif, Times New Roman, serif";
const FS = 23;
const T = d => d[0] * 1000;
const xMinor = d3.range(-50000, 1, 2000);
function logMinor(lo, hi) {
  const out = [];
  for (let k = Math.floor(Math.log10(lo)); k <= Math.ceil(Math.log10(hi)); k++)
    for (let m = 2; m <= 9; m++) { const v = +(m * Math.pow(10, k)).toPrecision(6); if (v > lo && v < hi) out.push(v); }
  return out;
}
const band = (data, color) => Plot.areaY(data, {x: T, y1: d => d[1], y2: d => d[2], fill: color, clip: true});
const line = (data, color, o = {}) => Plot.line(data, {x: T, y: d => d[1], stroke: color, strokeWidth: 1.2, clip: true, ...o});
const step = (data, color) => line(data, color, {curve: "step-after"});
const arch = (data, color) => line(data, color, {curve: "monotone-x", strokeWidth: 1.3});
const spikes = (data, top, color) => Plot.ruleX(data, {x: T, y1: d => d[1], y2: () => top, stroke: color, strokeWidth: 1.2, clip: true});

const wrap = document.getElementById("wrap");
function panel({top, y, ticks, labels, minor, marks, last}) {
  const mt = 14, mb = last ? 60 : 14;
  const svg = Plot.plot({
    width: W, height: PH + mt + mb,
    marginLeft: ML, marginRight: MR, marginTop: mt, marginBottom: mb,
    x: {domain: [-50000, 0], axis: null},
    y: {...y, axis: null},
    style: {background: "transparent", overflow: "visible", fontFamily: FONT, fontSize: FS + "px", color: "black"},
    marks: [
      ...marks,
      Plot.frame({stroke: "black", strokeWidth: 1.5}),
      Plot.tickY(ticks, {y: d => d, insetRight: FW - 8, stroke: "black"}),
      Plot.tickY(ticks, {y: d => d, insetLeft: FW - 8, stroke: "black"}),
      Plot.tickY(minor, {y: d => d, insetRight: FW - 4, stroke: "black"}),
      Plot.tickY(minor, {y: d => d, insetLeft: FW - 4, stroke: "black"}),
      Plot.tickX(xMajor, {x: d => d, insetTop: PH - 8, stroke: "black"}),
      Plot.tickX(xMajor, {x: d => d, insetBottom: PH - 8, stroke: "black"}),
      Plot.tickX(xMinor, {x: d => d, insetTop: PH - 4, stroke: "black"}),
      Plot.tickX(xMinor, {x: d => d, insetBottom: PH - 4, stroke: "black"}),
      Plot.text(ticks.map((v, i) => ({v, s: labels[i]})), {y: "v", text: "s", frameAnchor: "left", dx: -14, textAnchor: "end", fontSize: FS, fontFamily: FONT, fill: "black"}),
      last ? Plot.text(xMajor.map((v, i) => ({v, s: xLabels[i]})), {x: "v", text: "s", frameAnchor: "bottom", dy: 25, fontSize: 24, fontFamily: FONT, fill: "black"}) : null
    ]
  });
  svg.style.position = "absolute";
  svg.style.left = "0px";
  svg.style.top = (top - mt) + "px";
  wrap.appendChild(svg);
}

// d_J
panel({top: 1, y: {type: "log", domain: [0.01, 300]}, ticks: dJTicks, labels: dJLabels, minor: logMinor(0.01, 300), marks: [
  band(pinkBandJ, C.pink), arch(pinkArchJ, C.pink),
  band(cyanBandJ1, C.cyan), band(cyanBandJ2, C.cyan), arch(cyanArchJ1, C.cyan), arch(cyanArchJ1b, C.cyan), arch(cyanArchJ2, C.cyan), arch(cyanArchJ3, C.cyan), arch(cyanArchJ4, C.cyan),
  band(ygBandJ0, C.yg), band(ygBandJ1, C.yg), band(ygBandJ2, C.yg),
  arch(blueArchJ, C.blue),
  spikes(pinkSpikesJ, 4, C.pink), spikes(cyanSpikesJ, 20, C.cyan), spikes(ygSpikesJ, 4, C.yg), spikes(greenSpikesJ, 4, C.green), spikes(blueSpikesJ, 4, C.blue),
  band(redBandJ1, C.red), band(redBandJ2, C.red), band(redBandJ3, C.red),
  spikes(redSpikesJ1, 2, C.red), spikes(redSpikesJ2, 3, C.red),
  band(blackBandJ, C.black), spikes(blackSpikesJ, 3.5, C.black),
  Plot.ruleY(hillJ, {stroke: C.dash, strokeDasharray: "6,5", strokeWidth: 1})
]});

// d_S
panel({top: 122, y: {type: "log", domain: [0.1, 300]}, ticks: dSTicks, labels: dSLabels, minor: logMinor(0.1, 300), marks: [
  band(pinkBandS, C.pink), arch(pinkArchS, C.pink),
  band(cyanBandS1, C.cyan), band(cyanBandS2, C.cyan), arch(cyanArchS1, C.cyan), arch(cyanArchS1b, C.cyan), arch(cyanArchS2, C.cyan), arch(cyanArchS3, C.cyan), arch(cyanArchS4, C.cyan),
  band(ygBandS1, C.yg), band(ygBandS2, C.yg),
  arch(blueArchS, C.blue),
  spikes(pinkSpikesS, 8, C.pink), spikes(cyanSpikesS, 20, C.cyan), spikes(ygSpikesS, 8, C.yg), spikes(greenSpikesS, 8, C.green), spikes(blueSpikesS, 8, C.blue),
  band(redBandS2, C.red), band(redBandS3, C.red), spikes(redSpikesS, 8, C.red),
  band(blackBandS, C.black), spikes(blackSpikesS, 6.5, C.black),
  Plot.ruleY(hillS, {stroke: C.dash, strokeDasharray: "6,5", strokeWidth: 1})
]});

// a
panel({top: 243, y: {type: "log", domain: [1, 400]}, ticks: aTicks, labels: aLabels, minor: logMinor(1, 400), marks: [
  step(pink_a, C.pink), step(cyan_a, C.cyan), step(yg_a, C.yg), step(green_a, C.green), step(blue_a, C.blue), step(red_a, C.red), step(black_a, C.black)
]});

// e
panel({top: 364, y: {domain: [0, 1.27]}, ticks: eTicks, labels: eLabels, minor: d3.range(0.06, 1.27, 0.06).filter(v => Math.abs(v / 0.3 - Math.round(v / 0.3)) > 1e-6), marks: [
  step(pink_e, C.pink), step(cyan_e, C.cyan), step(yg_e, C.yg), step(green_e, C.green), step(blue_e, C.blue), step(red_e, C.red), step(black_e, C.black)
]});

// i
panel({top: 485, y: {domain: [0, 35]}, ticks: iTicks, labels: iLabels, minor: d3.range(2, 35, 2).filter(v => v % 10 !== 0), marks: [
  step(pink_i, C.pink), step(cyan_i, C.cyan), step(yg_i, C.yg), step(blue_i, C.blue), step(green_i, C.green), step(black_i, C.black), step(red_i, C.red)
]});

// T_J
panel({top: 606, y: {domain: [1.9, 3.4]}, ticks: tjTicks, labels: tjLabels, minor: d3.range(2.0, 3.4, 0.1).map(v => +v.toFixed(2)).filter(v => Math.abs(v * 2 - Math.round(v * 2)) > 1e-6), last: true, marks: [
  step(green_T, C.green), step(cyan_T, C.cyan), step(yg_T, C.yg), step(red_T, C.red), step(blue_T, C.blue), step(pink_T, C.pink), step(black_T, C.black),
  Plot.ruleY(refTJ, {stroke: C.orange, strokeWidth: 1.5}),
  Plot.ruleY(refTJlow, {stroke: C.dred, strokeWidth: 1.5})
]});
</script></body></html>
